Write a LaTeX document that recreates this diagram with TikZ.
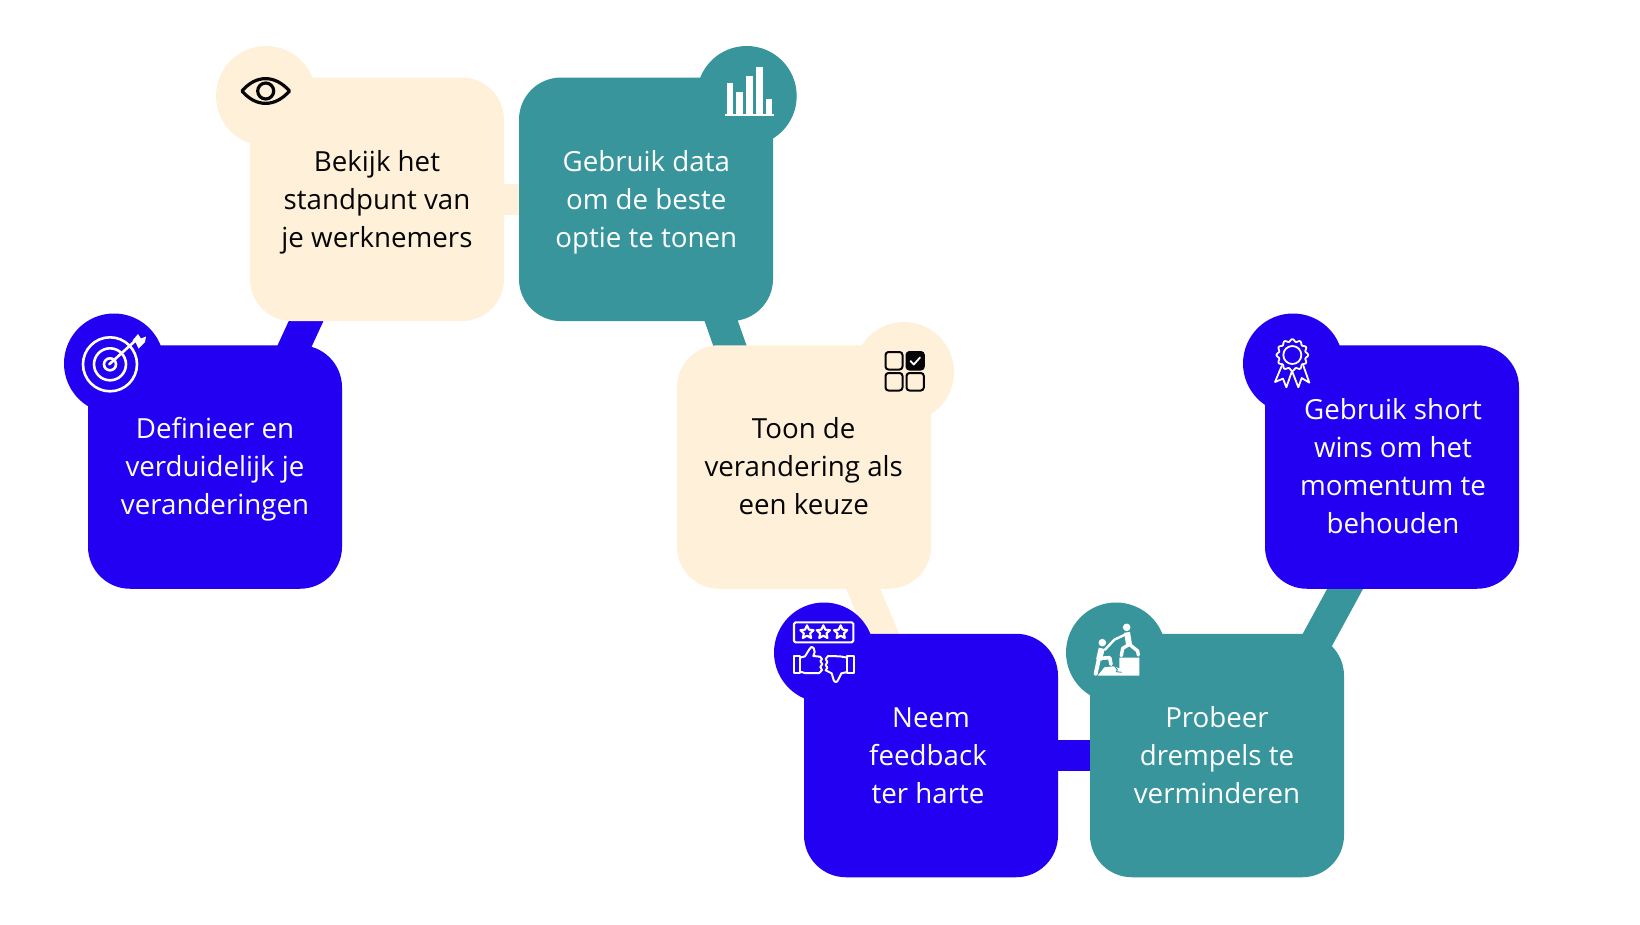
\documentclass[tikz,border=0pt]{standalone}
\usepackage{fontspec}
\setmainfont{Open Sans}
\usetikzlibrary{calc}
\definecolor{bluec}{HTML}{2300F2}
\definecolor{tealc}{HTML}{38959C}
\definecolor{creamc}{HTML}{FFF1D9}
\definecolor{inkc}{HTML}{050505}
\tikzset{
  card/.style={rectangle,rounded corners=42pt,minimum width=254pt,minimum height=243.5pt,inner sep=0pt,fill=#1},
  badge/.style={circle,minimum size=100pt,inner sep=0pt,fill=#1},
  link/.style={line width=31.5pt,draw=#1},
  label/.style={align=center,anchor=base,inner sep=0pt,font=\fontsize{27.7}{37.7}\selectfont,text=#1},
  iconw/.style={draw=white,line width=2.6pt,line join=round,line cap=round},
  iconk/.style={draw=inkc,line width=3.2pt,line join=round,line cap=round},
  zoomed/.style={x=0.33333pt,y=-0.33333pt}
}
\begin{document}
\begin{tikzpicture}[x=1pt,y=-1pt]
\useasboundingbox (0,0) rectangle (1640,924);
\fill[white] (0,0) rectangle (1640,924);

% cards and badges are placed first as empty paths for names
\path
  node[minimum width=254pt,minimum height=243.5pt,inner sep=0pt] (c1) at (215,467) {}
  node[minimum width=254pt,minimum height=243.5pt,inner sep=0pt] (c2) at (377,199.3) {}
  node[minimum width=254pt,minimum height=243.5pt,inner sep=0pt] (c3) at (646,199.3) {}
  node[minimum width=254pt,minimum height=243.5pt,inner sep=0pt] (c4) at (804,467) {}
  node[minimum width=254pt,minimum height=243.5pt,inner sep=0pt] (c5) at (931,755.5) {}
  node[minimum width=254pt,minimum height=243.5pt,inner sep=0pt] (c6) at (1217,755.5) {}
  node[minimum width=254pt,minimum height=243.5pt,inner sep=0pt] (c7) at (1392,467) {};

% connectors
\draw[link=bluec] ([shift={(70.8,-102)}]c1.center) -- ([shift={(-61.8,102)}]c2.center);
\draw[link=creamc] (c2) -- (c3);
\draw[link=tealc] ([shift={(68.3,102)}]c3.center) -- ([shift={(-67.3,-102)}]c4.center);
\draw[link=creamc] ([shift={(51,102)}]c4.center) -- ([shift={(-38.6,-96.5)}]c5.center);
\draw[link=bluec] (c5) -- (c6);
\draw[link=tealc] ([shift={(89.9,-96.5)}]c6.center) -- ([shift={(-36.1,102)}]c7.center);

% cards
\node[card=bluec] (k1) at (c1) {};
\node[card=creamc] (k2) at (c2) {};
\node[card=tealc] (k3) at (c3) {};
\node[card=creamc] (k4) at (c4) {};
\node[card=bluec] (k5) at (c5) {};
\node[card=tealc] (k6) at (c6) {};
\node[card=bluec] (k7) at (c7) {};

% badges
\node[badge=bluec] (b1) at (114,363.5) {};
\node[badge=creamc] (b2) at (266,96) {};
\node[badge=tealc] (b3) at (746.7,96) {};
\node[badge=creamc] (b4) at (904,372) {};
\node[badge=bluec] (b5) at (824,652.5) {};
\node[badge=tealc] (b6) at (1116,652.5) {};
\node[badge=bluec] (b7) at (1293,363.5) {};

% labels
\node[label=white] (t1) at (215,514) {Definieer en\\verduidelijk je\\veranderingen};
\node[label=inkc] (t2) at (377,247) {Bekijk het\\standpunt van\\je werknemers};
\node[label=white] (t3) at (646.3,247) {Gebruik data\\om de beste\\optie te tonen};
\node[label=inkc] (t4) at (803.7,514) {Toon de\\verandering als\\een keuze};
\node[label=white] (t5) at (928,803) {\hspace*{6pt}Neem\\feedback\\ter harte};
\node[label=white] (t6) at (1217,803) {Probeer\\drempels te\\verminderen};
\node[label=white] (t7) at (1393,533) {Gebruik short\\wins om het\\momentum te\\behouden};

% target icon
\begin{scope}[iconw]
  \draw (110,364.3) circle (27);
  \draw (110,364.3) circle (16);
  \draw (110,364.3) circle (6);
  \draw (109.3,364.3) -- (135,341);
\end{scope}
\fill[white] (132.5,340.5) -- (138,334) -- (141,338.5) -- (146,336.5) -- (145,342) -- (138.5,348.5) -- (135.7,342.5) -- cycle;

% eye icon
\begin{scope}[iconk]
  \draw (242,91) .. controls (256,74.5) and (275,74.5) .. (289.5,91) .. controls (275,107.5) and (256,107.5) .. (242,91) -- cycle;
  \draw (265.7,91) circle (8);
\end{scope}

% bar chart icon
\fill[white] (726.7,83.3) rectangle (732.7,115);
\fill[white] (736,91.7) rectangle (742.7,115);
\fill[white] (746,76) rectangle (752.7,115);
\fill[white] (756,67) rectangle (762.7,115);
\fill[white] (766,99.3) rectangle (772.3,115);
\fill[white] (725.3,114.4) rectangle (774,116.2);

% choice grid icon
\begin{scope}[draw=inkc,line width=2pt,rounded corners=3pt]
  \draw (885.5,352) rectangle (902.5,369.5);
  \filldraw[fill=inkc] (906.5,352) rectangle (923.8,369.5);
  \draw (885.5,373) rectangle (902.5,390.5);
  \draw (906.5,373) rectangle (923.8,390.5);
\end{scope}
\draw[white,line width=1.8pt,line cap=round,line join=round] (910.5,361) -- (913.8,364.5) -- (920,357.5);

% feedback icon
\begin{scope}[shift={(760,590)},zoomed]
  \draw[iconw,line width=2.1pt,rounded corners=1.5pt] (102,97) rectangle (280,157);
  \foreach \sx in {141,190,242}{
    \draw[iconw,line width=2.1pt] plot[samples at={90,126,162,198,234,270,306,342,378,414,450},variable=\a] ({\sx+(mod(round((\a-90)/36),2)==0 ? 21 : 10)*cos(\a)},{127-(mod(round((\a-90)/36),2)==0 ? 21 : 10)*sin(\a)});
  }
  \draw[iconw,line width=2pt] (101,198) rectangle (120,249);
  \draw[iconw,line width=2pt] (262,198) rectangle (281,249);
  \draw[iconw,line width=2pt] (120,203) -- (135,199) -- (148,178) .. controls (151,170) and (157,168) .. (161,174) -- (164,186) -- (160,198) -- (180,200) -- (186,207) -- (181,214) -- (187,222) -- (181,231) -- (186,240) -- (178,249) -- (135,249) -- (120,245);
  \draw[iconw,line width=2pt] (262,203) -- (240,199) -- (204,198) -- (197,207) -- (202,216) -- (197,225) -- (202,233) -- (197,241) -- (207,246) -- (215,250) -- (221,270) .. controls (224,278) and (231,278) .. (234,270) -- (244,250) -- (262,246);
\end{scope}

% climbing icon
\begin{scope}[shift={(1085,615)},zoomed]
  \fill[white] (125,37) circle (3.8pt);
  \fill[white] (52,83) circle (3.8pt);
  \begin{scope}[draw=white,line cap=round,line join=round,line width=3.4pt]
    \draw[line width=2.4pt] (88,74) -- (122,58);
    \draw[line width=2.4pt] (88,74) -- (60,104);
    \draw[line width=6pt,line cap=butt] (126,52) -- (132,88);
    \draw (133,88) -- (113,100) -- (109,122);
    \draw (133,88) -- (158,108) -- (160,120);
    \draw[line width=6pt,line cap=butt] (50,100) -- (42,135);
    \draw[line width=4pt] (42,130) -- (32,176);
    \draw[line width=3.6pt] (46,130) -- (74,128) -- (78,148);
  \end{scope}
  \fill[white] (103,128) -- (163,128) -- (163,182) -- (38,182) -- (58,157) -- (85,154) -- (103,160) -- cycle;
  \draw[tealc,line width=0.9pt] (90,155) -- (97,164) -- (94,170) -- (110,172);
\end{scope}

% rosette icon
\begin{scope}[shift={(1240,300)},zoomed]
  \draw[iconw,line width=1.8pt] (157,165) circle (27);
  \draw[iconw,line width=1.8pt] plot[domain=0:360,samples=145,smooth,variable=\a] ({157+(44+3.5*cos(12*\a))*cos(\a)},{165+(44+3.5*cos(12*\a))*sin(\a)});
  \draw[iconw,line width=1.8pt] (125,198) -- (105,246) -- (129,236) -- (139,262) -- (156,213) -- (175,262) -- (185,234) -- (208,248) -- (190,197);
\end{scope}
\end{tikzpicture}
\end{document}
